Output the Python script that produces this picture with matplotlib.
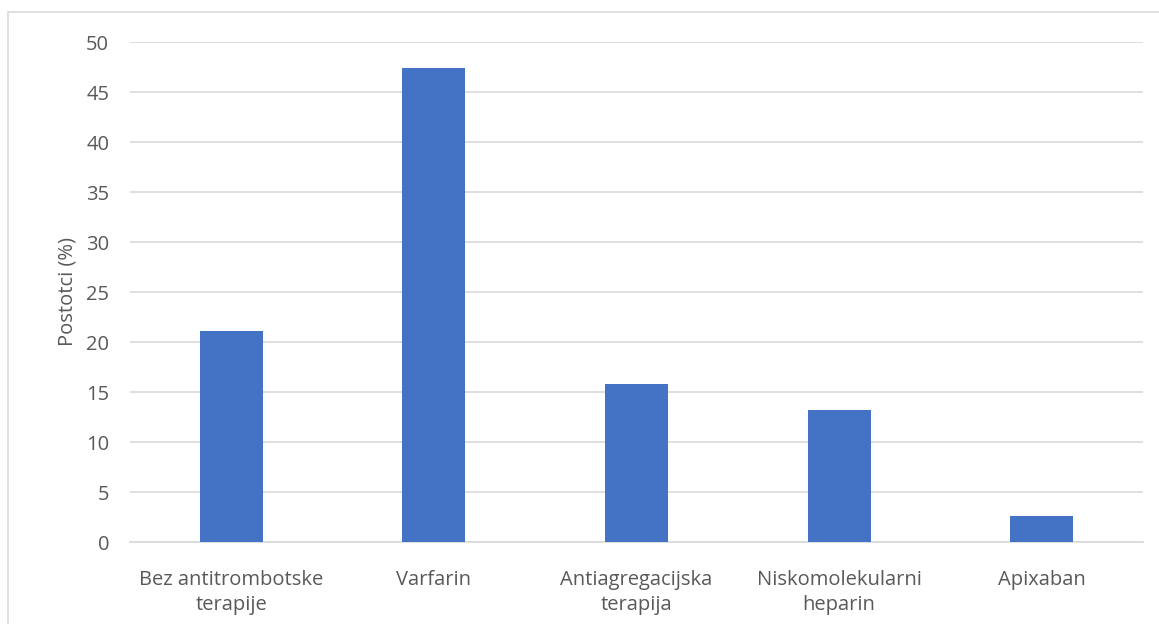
import matplotlib.pyplot as plt
import numpy as np
from matplotlib.patches import Rectangle

categories = ['Bez antitrombotske\nterapije', 'Varfarin', 'Antiagregacijska\nterapija',
              'Niskomolekularni\nheparin', 'Apixaban']
values = [21.1, 47.4, 15.8, 13.2, 2.6]
yticks = [0, 5, 10, 15, 20, 25, 30, 35, 40, 45, 50]

plt.rcParams['font.family'] = ['Open Sans', 'DejaVu Sans']

W, H = 1159, 624
fig = plt.figure(figsize=(W / 100, H / 100), dpi=100)
ax = fig.add_axes([130 / W, 1 - 542 / H, (1143 - 130) / W, 500 / H])

# chart frame like the Excel chart area
fig.patches.append(Rectangle((8 / W, -0.1), 1.2, 1 - 12 / H + 0.1, transform=fig.transFigure,
                             fill=False, edgecolor='#D9D9D9', linewidth=1.2))

x = np.arange(len(categories))
ax.bar(x, values, width=0.31, color='#4472C4', zorder=3)

ax.set_xlim(-0.5, len(categories) - 0.5)
ax.set_ylim(0, 50)
ax.set_yticks(yticks)
ax.set_xticks(x)
ax.set_xticklabels(categories, fontsize=14.5, color='#595959', linespacing=1.35)
ax.tick_params(axis='y', labelsize=14.5, labelcolor='#595959', length=0, pad=15)
ax.tick_params(axis='x', length=0, pad=20)
ax.yaxis.grid(True, color='#D9D9D9', linewidth=1.2, zorder=0)
for s in ax.spines.values():
    s.set_visible(False)
ax.spines['bottom'].set_visible(True)
ax.spines['bottom'].set_color('#D9D9D9')
ax.spines['bottom'].set_linewidth(1.2)

ax.set_ylabel('Postotci (%)', fontsize=14.5, color='#595959', labelpad=6)

fig.savefig('out.png', dpi=100)
